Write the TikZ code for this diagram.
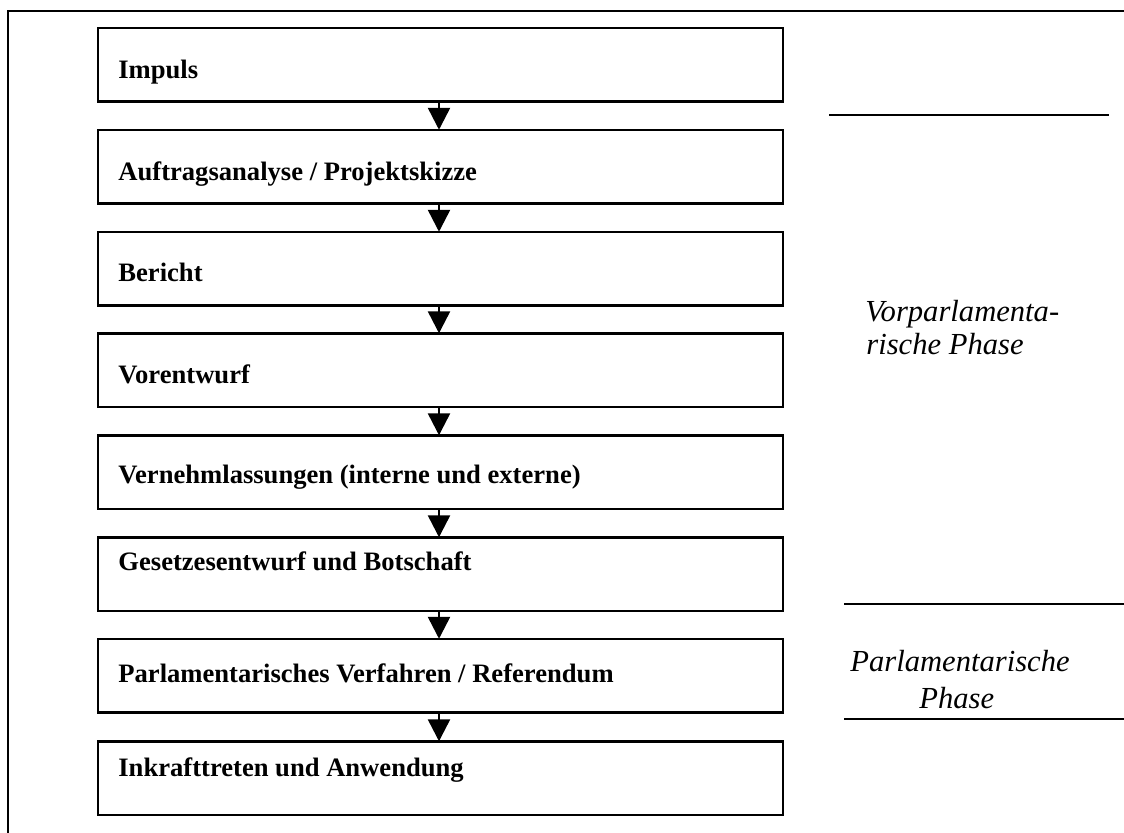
\documentclass[tikz,border=0pt]{standalone}
\usepackage{fontspec}
\setmainfont{Liberation Serif}
\usetikzlibrary{arrows.meta}
\begin{document}
\begin{tikzpicture}[x=0.5pt,y=-0.5pt,
  stepbox/.style={draw, line width=1.25pt, rectangle, outer sep=0pt, inner sep=0pt,
    minimum width=342.5pt, minimum height=36.75pt},
  steptext/.style={anchor=base west, inner sep=0pt, font=\fontsize{13.3}{16}\selectfont\bfseries},
  phasetext/.style={anchor=base west, inner sep=0pt, font=\fontsize{15.3}{18}\selectfont\itshape},
  flow/.style={line width=1.25pt, -{Triangle[length=11pt,width=11pt]}},
  rule/.style={line width=1.2pt}]
\useasboundingbox (0,0) rectangle (1124,832);
% outer frame (right and bottom sides lie outside the page)
\draw[line width=1pt] (1130,11) -- (8,11) -- (8,840);
% boxes
\node[stepbox] (b1) at (440.5,64.5) {};
\node[stepbox] (b2) at (440.5,166.5) {};
\node[stepbox] (b3) at (440.5,268.5) {};
\node[stepbox] (b4) at (440.5,370) {};
\node[stepbox] (b5) at (440.5,472) {};
\node[stepbox] (b6) at (440.5,574) {};
\node[stepbox] (b7) at (440.5,675.5) {};
\node[stepbox] (b8) at (440.5,778) {};
% texts
\node[steptext] (t1) at (118,78) {Impuls};
\node[steptext] (t2) at (118,180) {Auftragsanalyse / Projektskizze};
\node[steptext] (t3) at (118,281) {Bericht};
\node[steptext] (t4) at (118,383) {Vorentwurf};
\node[steptext] (t5) at (118,483) {Vernehmlassungen (interne und externe)};
\node[steptext] (t6) at (118,570) {Gesetzesentwurf und Botschaft};
\node[steptext] (t7) at (118,682) {Parlamentarisches Verfahren / Referendum};
\node[steptext] (t8) at (118,776) {Inkrafttreten und Anwendung};
% arrows
\coordinate (ax) at (439,0);
\foreach \a/\b in {b1/b2,b2/b3,b3/b4,b4/b5,b5/b6,b6/b7,b7/b8}
  \draw[flow] (\a.south -| ax) -- (\b.north -| ax);
% phase separators
\coordinate (r1a) at (829,115);  \coordinate (r1b) at (1109,115);
\coordinate (r2a) at (844,604);  \coordinate (r2b) at (1124,604);
\coordinate (r3a) at (844,719);  \coordinate (r3b) at (1124,719);
\draw[rule] (r1a) -- (r1b);
\draw[rule] (r2a) -- (r2b);
\draw[rule] (r3a) -- (r3b);
% phase labels
\node[phasetext] (v1) at (865,321) {Vorparlamenta-};
\node[phasetext] (v2) at (866,354) {rische Phase};
\node[phasetext] (p1) at (850,671) {Parlamentarische};
\node[phasetext] (p2) at (919,708) {Phase};
\end{tikzpicture}
\end{document}
